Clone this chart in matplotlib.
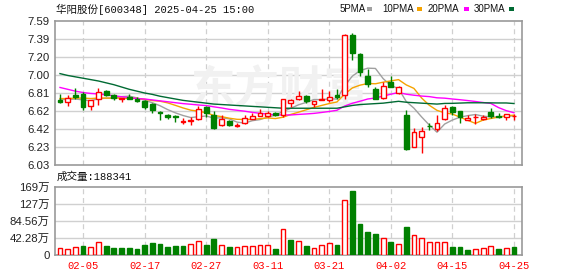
import matplotlib
matplotlib.use("Agg")
import matplotlib.pyplot as plt
import numpy as np

# ---------------- data ----------------
dates = ["01-23","01-24","01-27","02-05","02-06","02-07","02-10","02-11","02-12","02-13",
         "02-14","02-17","02-18","02-19","02-20","02-21","02-24","02-25","02-26","02-27",
         "02-28","03-03","03-04","03-05","03-06","03-07","03-10","03-11","03-12","03-13",
         "03-14","03-17","03-18","03-19","03-20","03-21","03-24","03-25","03-26","03-27",
         "03-28","03-31","04-01","04-02","04-03","04-07","04-08","04-09","04-10","04-11",
         "04-14","04-15","04-16","04-17","04-18","04-21","04-22","04-23","04-24","04-25"]
tick_dates = ["02-05","02-17","02-27","03-11","03-21","04-02","04-15","04-25"]

opens  = [6.73,6.71,6.79,6.80,6.67,6.74,6.83,6.79,6.75,6.765,
          6.75,6.72,6.69,6.60,6.575,6.56,6.50,6.51,6.53,6.66,
          6.57,6.46,6.51,6.455,6.48,6.53,6.565,6.565,6.59,6.57,
          6.70,6.74,6.78,6.69,6.73,6.73,6.79,6.79,7.44,7.23,
          6.99,6.85,6.755,6.93,6.81,6.57,6.22,6.33,6.455,6.42,
          6.53,6.66,6.62,6.52,6.545,6.525,6.60,6.555,6.55,6.56]
highs  = [6.80,6.79,6.86,6.82,6.73,6.86,6.84,6.80,6.76,6.80,
          6.77,6.73,6.70,6.61,6.58,6.57,6.54,6.55,6.67,6.67,
          6.62,6.57,6.52,6.48,6.57,6.59,6.64,6.62,6.60,6.745,
          6.74,6.83,6.79,6.725,6.85,6.83,6.85,7.45,7.46,7.24,
          7.07,6.87,6.93,6.99,6.89,6.63,6.43,6.44,6.48,6.57,
          6.68,6.67,6.62,6.57,6.58,6.57,6.645,6.59,6.585,6.58]
lows   = [6.70,6.67,6.75,6.63,6.63,6.68,6.78,6.73,6.71,6.74,
          6.71,6.64,6.59,6.52,6.53,6.50,6.47,6.46,6.52,6.55,
          6.42,6.45,6.45,6.445,6.47,6.525,6.56,6.555,6.56,6.555,
          6.655,6.735,6.70,6.655,6.73,6.71,6.74,6.745,7.17,6.99,
          6.87,6.74,6.75,6.87,6.80,6.19,6.22,6.165,6.41,6.40,
          6.52,6.57,6.49,6.515,6.47,6.52,6.535,6.54,6.52,6.52]
closes = [6.71,6.76,6.77,6.66,6.73,6.82,6.79,6.76,6.755,6.75,
          6.72,6.66,6.63,6.59,6.55,6.545,6.51,6.52,6.64,6.59,
          6.43,6.53,6.46,6.465,6.535,6.56,6.59,6.595,6.57,6.74,
          6.735,6.775,6.72,6.725,6.745,6.77,6.765,7.44,7.24,7.04,
          6.91,6.75,6.89,6.875,6.88,6.20,6.385,6.40,6.45,6.49,
          6.645,6.60,6.555,6.535,6.55,6.555,6.56,6.55,6.58,6.565]
pre_close = 6.70

# volume in 万
volumes = [16.6,14.1,19.1,22.4,19.1,31.5,22.4,17.4,17.4,17.4,
           14.9,24.9,29.8,27.4,19.9,22.4,22.4,27.4,34.0,24.9,
           39.8,24.0,19.9,19.9,22.4,22.4,24.0,24.0,14.1,63.8,
           37.3,34.8,22.4,16.6,24.0,29.0,24.9,136.0,159.0,77.1,
           58.0,52.2,41.5,32.3,26.5,69.6,48.9,41.5,32.3,32.3,
           32.3,19.9,19.9,12.4,14.1,16.6,21.6,14.9,16.6,18.83]

ma5 = [6.74,6.74,6.745,6.735,6.726,6.748,6.754,6.752,6.771,6.776,
       6.757,6.731,6.705,6.672,6.63,6.595,6.566,6.544,6.553,6.561,
       6.538,6.542,6.53,6.495,6.484,6.51,6.522,6.549,6.57,6.611,
       6.645,6.682,6.708,6.739,6.739,6.746,6.745,6.889,6.993,7.052,
       7.079,7.076,6.966,6.891,6.858,6.718,6.646,6.551,6.463,6.385,
       6.474,6.517,6.548,6.565,6.577,6.559,6.551,6.55,6.559,6.562]
ma10 = [6.75,6.75,6.755,6.755,6.75,6.755,6.755,6.755,6.755,6.751,
        6.752,6.742,6.728,6.721,6.703,6.676,6.648,6.624,6.613,6.596,
        6.567,6.554,6.537,6.525,6.523,6.524,6.532,6.54,6.533,6.548,
        6.578,6.602,6.628,6.654,6.675,6.696,6.713,6.798,6.865,6.895,
        6.913,6.91,6.927,6.941,6.955,6.898,6.86,6.756,6.677,6.622,
        6.595,6.582,6.548,6.514,6.481,6.517,6.534,6.549,6.562,6.57]
ma20 = [6.87,6.85,6.83,6.815,6.805,6.80,6.79,6.78,6.77,6.76,
        6.75,6.745,6.735,6.725,6.715,6.705,6.695,6.688,6.68,6.674,
        6.66,6.648,6.633,6.623,6.613,6.60,6.59,6.582,6.573,6.572,
        6.572,6.578,6.583,6.589,6.599,6.61,6.623,6.669,6.699,6.721,
        6.745,6.756,6.777,6.797,6.815,6.797,6.786,6.777,6.771,6.758,
        6.754,6.745,6.737,6.728,6.718,6.707,6.697,6.652,6.619,6.596]
ma30 = [7.02,7.00,6.985,6.97,6.955,6.94,6.92,6.90,6.875,6.85,
        6.83,6.81,6.795,6.775,6.76,6.745,6.73,6.72,6.71,6.70,
        6.69,6.685,6.68,6.675,6.67,6.665,6.66,6.655,6.65,6.645,
        6.645,6.645,6.645,6.645,6.645,6.645,6.645,6.66,6.675,6.685,
        6.69,6.695,6.70,6.71,6.72,6.71,6.705,6.70,6.695,6.69,
        6.697,6.698,6.701,6.704,6.704,6.704,6.703,6.702,6.702,6.696]

price_labels = ["6.03","6.23","6.42","6.62","6.81","7.00","7.20","7.39","7.59"]
vol_labels = ["0","42.28万","84.56万","127万","169万"]
title_text = "华阳股份[600348] 2025-04-25 15:00"
vol_title = "成交量:188341"
legend_names = ["5PMA","10PMA","20PMA","30PMA"]

# ---------------- style ----------------
RED = "#ff0000"
GREEN = "#008000"
MA_COLORS = ["#a0a0a0", "#f5a300", "#ff00ff", "#006a33"]
GRID = "#d0d0d0"
SPINE = "#999999"

W, H = 578, 276
fig = plt.figure(figsize=(W/100, H/100), dpi=100)
fig.patch.set_facecolor("white")

def fr(x0, y0, x1, y1):
    return [x0/W, 1 - y1/H, (x1-x0)/W, (y1-y0)/H]

ax = fig.add_axes(fr(55, 21, 522, 165))
axv = fig.add_axes(fr(55, 187, 522, 255))

n = len(closes)
x = np.arange(n)
tick_pos = [dates.index(d) for d in tick_dates]

ymin, ymax = 6.03, 7.59
pticks = np.linspace(ymin, ymax, len(price_labels))
vmax = 169.12
vticks = np.linspace(0, vmax, len(vol_labels))

for a in (ax, axv):
    a.set_xlim(-0.65, n + 0.05)
    for s in a.spines.values():
        s.set_color(SPINE)
        s.set_linewidth(1.2)
    a.tick_params(length=0)
    for tp in tick_pos:
        a.axvline(tp, color=GRID, lw=0.9, ls=(0, (4, 3)), zorder=0)

ax.set_ylim(ymin, ymax)
ax.set_yticks(pticks)
ax.set_yticklabels(price_labels, fontsize=8.2, color="#222222", family="Liberation Sans")
for t in pticks[1:-1]:
    ax.axhline(t, color=GRID, lw=1.0, zorder=0)
ax.set_xticks([])

axv.set_ylim(0, vmax)
axv.set_yticks(vticks)
axv.set_yticklabels(vol_labels, fontsize=8.2, color="#222222",
                    family=["Liberation Sans", "Noto Sans CJK SC"])
for t in vticks[1:-1]:
    axv.axhline(t, color=GRID, lw=1.0, zorder=0)
axv.set_xticks(tick_pos)
axv.set_xticklabels(tick_dates, fontsize=7.6, color=RED, family="Liberation Mono")
axv.tick_params(axis="x", pad=4)
for a in (ax, axv):
    a.tick_params(axis="y", pad=4)

# watermark
ax.text(28.5, 6.84, "东方财富", fontsize=32, color="#f1f1f1", ha="center", va="center",
        family="Noto Sans CJK SC", fontweight="bold", zorder=0.5)

# MA lines
for arr, col in zip([ma5, ma10, ma20, ma30], MA_COLORS):
    ax.plot(x, arr, color=col, lw=1.0, zorder=2)

# candles
bw = 0.62
for i in range(n):
    o, h, l, c = opens[i], highs[i], lows[i], closes[i]
    up = c >= o
    col = RED if up else GREEN
    ax.vlines(i, l, h, color=col, lw=1.0, zorder=3)
    body = max(abs(c - o), 0.006)
    ax.bar(i, body, bottom=min(o, c), width=bw,
           facecolor="white" if up else GREEN, edgecolor=col, lw=1.0, zorder=4)

# volume bars
prev = [pre_close] + closes[:-1]
for i in range(n):
    vup = closes[i] >= prev[i]
    col = RED if vup else GREEN
    axv.bar(i, volumes[i], width=bw, facecolor="white" if vup else GREEN,
            edgecolor=col, lw=1.0, zorder=3)

# header texts
fig.text(56/W, 1 - 9/H, title_text, fontsize=7.6, color="#111111",
         family=["Liberation Mono", "Noto Sans CJK SC"], va="center", ha="left")
fig.text(57/W, 1 - 177/H, vol_title, fontsize=7.6, color="#111111",
         family=["Liberation Mono", "Noto Sans CJK SC"], va="center", ha="left")

text_x = [340, 382, 428, 474]
square_x = [367, 417, 464, 509]
for name, col, px, sx in zip(legend_names, MA_COLORS, text_x, square_x):
    fig.text(px/W, 1 - 9/H, name, fontsize=7.0, color="#111111",
             family="Liberation Sans", va="center", ha="left")
    fig.patches.append(matplotlib.patches.Rectangle(
        (sx/W, 1 - 11/H), 5/W, 4/H,
        transform=fig.transFigure, facecolor=col, edgecolor="none"))

fig.savefig("out.png", dpi=100)
